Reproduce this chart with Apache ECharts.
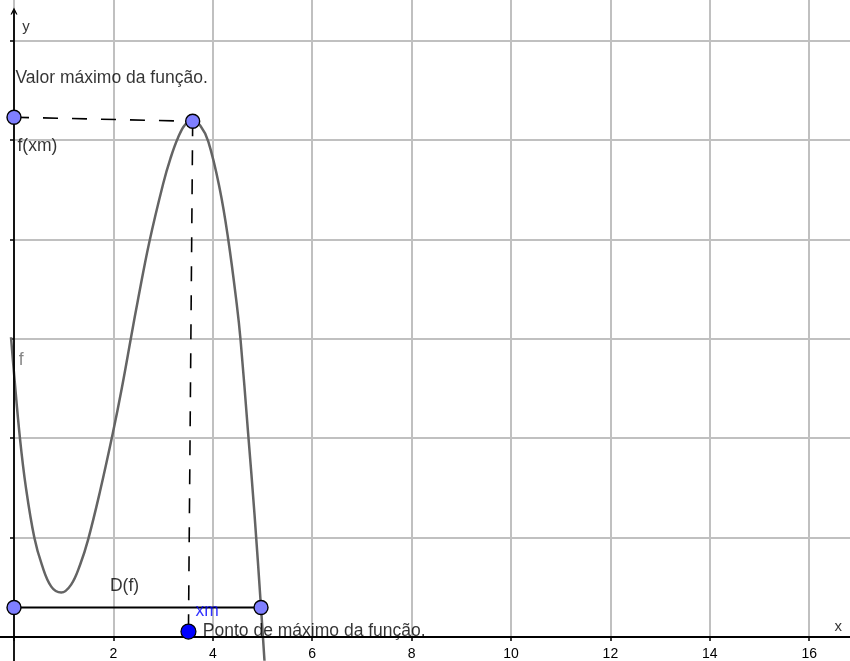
<!DOCTYPE html>
<html>
<head>
<meta charset="utf-8">
<style>
html,body{margin:0;padding:0;background:#fff;}
#c{width:850px;height:661px;}
</style>
<script src="https://cdn.jsdelivr.net/npm/echarts@6/dist/echarts.min.js"></script>
</head>
<body>
<div id="c"></div>
<script>
// ---- data ----
const curveX = [-0.06, 0, 0.12, 0.24, 0.41, 0.56, 0.75, 0.95, 1.15, 1.33, 1.49, 1.73, 1.99, 2.17, 2.37, 2.49, 2.72, 3.0, 3.15, 3.3, 3.45, 3.6, 3.75, 3.91, 4.14, 4.31, 4.48, 4.56, 4.71, 4.84, 4.97, 5.04];
const curveY = [6.02, 5.3, 3.99, 3.0, 1.99, 1.45, 1.01, 0.89, 1.05, 1.45, 1.95, 2.92, 4.1, 5.0, 6.1, 6.75, 7.92, 9.1, 9.62, 10.03, 10.3, 10.36, 10.27, 9.95, 9.0, 7.99, 6.7, 5.95, 4.1, 2.45, 0.59, -0.48];

const refPointX = [0, 3.595, 0, 4.97];
const refPointY = [10.44, 10.36, 0.59, 0.59];

const maxPointX = [3.51];
const maxPointY = [0.107];

const hDashX = [0, 3.595];
const hDashY = [10.44, 10.36];
const vDashX = [3.595, 3.51];
const vDashY = [10.36, 0.107];

const domainX = [0, 4.97];
const domainY = [0.59, 0.59];

const labelTexts = ['Valor máximo da função.', 'f(xm)', 'f', 'D(f)', 'xm', 'Ponto de máximo da função.', 'y', 'x'];
const labelX = [0.02, 0.06, 0.087, 1.92, 3.64, 3.79, 0.155, 16.5];
const labelY = [11.23, 9.85, 5.55, 1.01, 0.52, 0.117, 12.26, 0.21];
const labelColors = ['#000', '#000', '#666666', '#000', '#0000ff', '#000', '#000', '#000'];
const labelSizes = [17.5, 17.5, 17.5, 17.5, 17.5, 17.5, 15, 15];

const xTickLabels = [2, 4, 6, 8, 10, 12, 14, 16];

// ---- layout ----
const W = 850, H = 661;
const PX = 49.7;         // pixels per unit
const X0 = 14, Y0 = 637; // origin pixel position
const FONT = '"Liberation Sans", Arial, sans-serif';

const zip = (xs, ys) => xs.map((x, i) => [x, ys[i]]);

const chart = echarts.init(document.getElementById('c'), null, {renderer: 'canvas'});

const option = {
  animation: false,
  backgroundColor: '#ffffff',
  textStyle: {fontFamily: FONT},
  grid: [
    {left: X0, right: W - (X0 + 18 * PX), top: Y0 - 14 * PX, bottom: H - Y0,
     containLabel: false, outerBoundsMode: 'none'},
    {left: X0 - 2 * PX, right: W - (X0 + 18 * PX), top: 11, bottom: H - (Y0 + 2 * PX),
     containLabel: false, outerBoundsMode: 'none'}
  ],
  xAxis: [
    {
      gridIndex: 0, type: 'value', min: 0, max: 18, interval: 2, position: 'bottom',
      axisLine: {show: false},
      axisTick: {show: true, inside: false, length: 4, lineStyle: {color: '#000', width: 1.5}},
      axisLabel: {
        show: true, margin: 10, fontSize: 14, color: '#000', fontFamily: FONT,
        formatter: v => xTickLabels.includes(v) ? String(v) : ''
      },
      splitLine: {show: true, lineStyle: {color: '#c0c0c0', width: 2}}
    },
    {
      gridIndex: 1, type: 'value', min: -2, max: 18, interval: 2, z: 3,
      axisLine: {show: true, onZero: true, lineStyle: {color: '#000', width: 1.8}},
      axisTick: {show: false}, axisLabel: {show: false},
      splitLine: {show: false}
    }
  ],
  yAxis: [
    {
      gridIndex: 0, type: 'value', min: 0, max: 14, interval: 2, position: 'left',
      axisLine: {show: false},
      axisTick: {show: true, inside: false, length: 4, lineStyle: {color: '#000', width: 1.5}},
      axisLabel: {show: false},
      splitLine: {show: true, lineStyle: {color: '#c0c0c0', width: 2}}
    },
    {
      gridIndex: 1, type: 'value', min: -2, max: (Y0 - 12) / PX, interval: 2, z: 3,
      axisLine: {
        show: true, onZero: true,
        symbol: ['none', 'path://M0,10 L5,0 L10,10 L8,10 L5,4 L2,10 Z'],
        symbolSize: [10, 7],
        lineStyle: {color: '#000', width: 1.8}
      },
      axisTick: {show: false}, axisLabel: {show: false},
      splitLine: {show: false}
    }
  ],
  series: [
    {
      name: 'f', type: 'line', xAxisIndex: 1, yAxisIndex: 1,
      data: zip(curveX, curveY), smooth: 0.4, symbol: 'none', showSymbol: false,
      lineStyle: {color: '#646464', width: 2.5}, z: 2, silent: true
    },
    {
      type: 'line', xAxisIndex: 1, yAxisIndex: 1, data: zip(hDashX, hDashY),
      symbol: 'none', lineStyle: {color: '#000', width: 1.6, type: [15, 14]}, z: 3, silent: true
    },
    {
      type: 'line', xAxisIndex: 1, yAxisIndex: 1, data: zip(vDashX, vDashY),
      symbol: 'none', lineStyle: {color: '#000', width: 1.6, type: [15, 14]}, z: 3, silent: true
    },
    {
      type: 'line', xAxisIndex: 1, yAxisIndex: 1, data: zip(domainX, domainY),
      symbol: 'none', lineStyle: {color: '#000', width: 1.8}, z: 3, silent: true
    },
    {
      type: 'scatter', xAxisIndex: 1, yAxisIndex: 1, data: zip(refPointX, refPointY),
      symbol: 'circle', symbolSize: 14,
      itemStyle: {color: '#7f7fff', borderColor: '#000', borderWidth: 1.4, opacity: 1}, z: 5, silent: true
    },
    {
      type: 'scatter', xAxisIndex: 1, yAxisIndex: 1, data: zip(maxPointX, maxPointY),
      symbol: 'circle', symbolSize: 15,
      itemStyle: {color: '#0000ff', borderColor: '#000', borderWidth: 1.2, opacity: 1}, z: 5, silent: true
    },
    {
      type: 'scatter', xAxisIndex: 1, yAxisIndex: 1, symbolSize: 1,
      itemStyle: {color: 'rgba(0,0,0,0)'}, z: 6, silent: true,
      data: labelTexts.map((t, i) => ({
        value: [labelX[i], labelY[i]],
        label: {
          show: true, position: 'right', distance: 0, formatter: t,
          color: labelColors[i], fontSize: labelSizes[i], fontFamily: FONT,
          align: 'left', verticalAlign: 'middle'
        }
      }))
    }
  ]
};
chart.setOption(option);
</script>
</body>
</html>
